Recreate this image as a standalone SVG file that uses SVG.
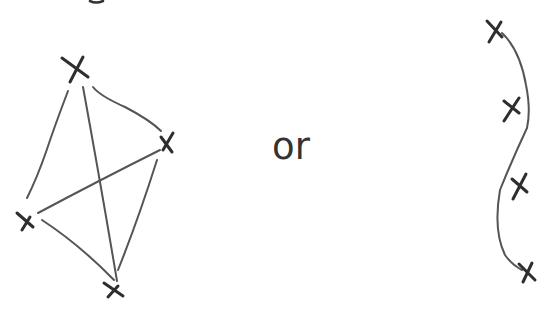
<svg xmlns="http://www.w3.org/2000/svg" width="544" height="321" viewBox="0 0 544 321">
<style>
.edge{fill:none;stroke:#555;stroke-width:2;stroke-linecap:round;stroke-linejoin:round}
.mark{fill:none;stroke:#2e2e2e;stroke-width:3;stroke-linecap:round}
.ink{fill:none;stroke:#333;stroke-width:2.6;stroke-linecap:round;stroke-linejoin:round}
.label{font-family:"DejaVu Sans","Liberation Sans",sans-serif;font-size:37px;fill:#333}
</style>
<rect width="544" height="321" fill="#fff"/>
<path class="ink" d="M90 1 Q96 4 103 1"/>
<g id="connectors">
<path class="edge" d="M68 91 Q55 125 46 152 Q37 178 27 198"/>
<path class="edge" d="M83 87 Q100 180 117 281"/>
<path class="edge" d="M93 87 Q100 96 125 107 Q150 120 161 131"/>
<path class="edge" d="M38 213 Q100 180 160 150"/>
<path class="edge" d="M42 220 Q80 245 114 280"/>
<path class="edge" d="M157 160 Q138 220 118 270"/>
<path class="edge" d="M502 33 Q520 50 526 85 Q531 110 527 128 Q512 160 500 190 Q493 230 505 255 Q512 265 522 270"/>
</g>
<g id="k4-top"><path class="mark" d="M62 58 L88 77 M83 57 L70 82"/></g>
<g id="k4-right"><path class="mark" d="M161 137 L172 152 M173 133 L163 150"/></g>
<g id="k4-left"><path class="mark" d="M17 213 L33 227 M30 217 L22 230"/></g>
<g id="k4-bottom"><path class="mark" d="M104 283 L123 296 M118 286 L108 297"/></g>
<g id="or-label"><text class="label" x="272" y="159">or</text></g>
<g id="path-1"><path class="mark" d="M487 21 L502 37 M501 22 L489 42"/></g>
<g id="path-2"><path class="mark" d="M504 101 L519 113 M519 98 L504 121"/></g>
<g id="path-3"><path class="mark" d="M512 179 L527 192 M526 174 L513 199"/></g>
<g id="path-4"><path class="mark" d="M519 264 L535 280 M532 263 L523 282"/></g>
</svg>
